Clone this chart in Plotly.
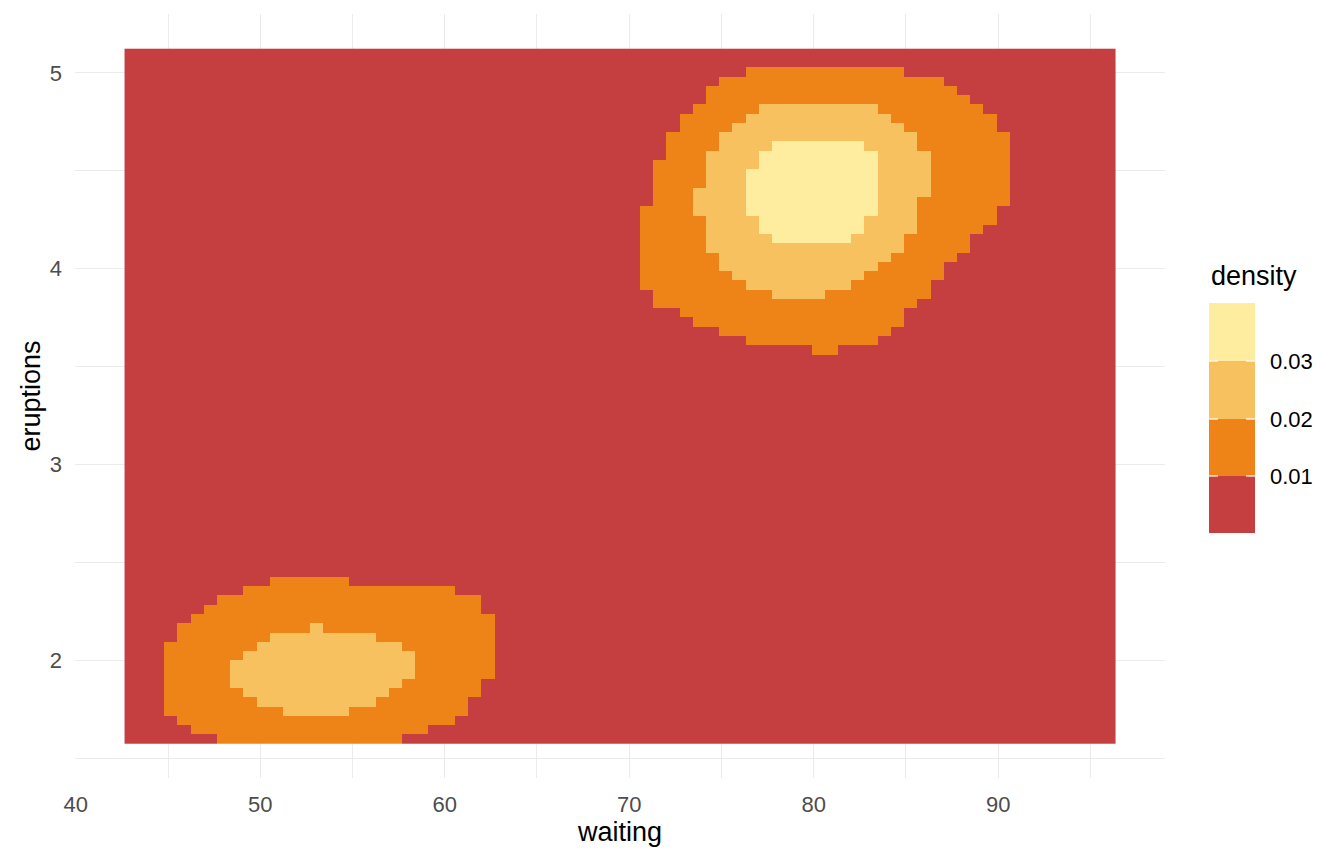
import numpy as np
import plotly.graph_objects as go

# ---- grid (as in the reference raster: 75 x 75 cells) ----
N_GRID = 75
WAITING_RANGE = [43, 96]
ERUPTIONS_RANGE = [1.6, 5.1]

# density class representative values (bins: <0.01, 0.01-0.02, 0.02-0.03, >0.03)
LEVEL_VALUES = [0.005, 0.015, 0.025, 0.035]
LEGEND_BREAKS = [0.01, 0.02, 0.03]
LEGEND_LABELS = ["0.01", "0.02", "0.03"]
COLORS = ["#C53E40", "#EE8317", "#F8C15F", "#FEEC9F"]

# Region extents: row index counted from the TOP of the raster,
# and first/last column index (waiting) covered in that row.
# Upper cluster, density >= 0.01
UP_OR_ROWS = list(range(2, 33))
UP_OR_L = [47, 45, 44, 44, 43, 42, 42, 41, 41, 41, 40, 40, 40, 40, 40, 39, 39, 39, 39, 39,
           39, 39, 39, 39, 40, 40, 42, 43, 45, 47, 52]
UP_OR_R = [58, 61, 62, 63, 64, 65, 65, 66, 66, 66, 66, 66, 66, 66, 66, 65, 65, 64, 63, 63,
           62, 61, 61, 60, 60, 59, 58, 58, 57, 56, 53]
# Upper cluster, density >= 0.02
UP_LT_ROWS = list(range(6, 27))
UP_LT_L = [48, 47, 46, 45, 45, 44, 44, 44, 44, 43, 43, 43, 44, 44, 44, 44, 45, 45, 46, 47, 49]
UP_LT_R = [56, 57, 58, 59, 59, 60, 60, 60, 60, 60, 59, 59, 59, 59, 58, 58, 57, 56, 55, 54, 52]
# Upper cluster, density >= 0.03
UP_YE_ROWS = list(range(10, 21))
UP_YE_L = [49, 48, 48, 47, 47, 47, 47, 47, 48, 48, 49]
UP_YE_R = [55, 56, 56, 56, 56, 56, 56, 56, 55, 55, 54]
# Lower cluster, density >= 0.01
LO_OR_ROWS = list(range(57, 75))
LO_OR_L = [11, 9, 7, 6, 5, 4, 4, 3, 3, 3, 3, 3, 3, 3, 3, 4, 5, 7]
LO_OR_R = [16, 24, 26, 26, 27, 27, 27, 27, 27, 27, 27, 26, 26, 25, 25, 24, 22, 20]
# Lower cluster, density >= 0.02
LO_LT_ROWS = list(range(62, 72))
LO_LT_L = [14, 11, 10, 9, 8, 8, 8, 9, 10, 12]
LO_LT_R = [14, 18, 20, 21, 21, 21, 20, 19, 18, 16]

waiting = np.linspace(WAITING_RANGE[0], WAITING_RANGE[1], N_GRID)
eruptions = np.linspace(ERUPTIONS_RANGE[0], ERUPTIONS_RANGE[1], N_GRID)

z = np.full((N_GRID, N_GRID), LEVEL_VALUES[0])


def fill(rows, lefts, rights, level):
    for r, a, b in zip(rows, lefts, rights):
        j = N_GRID - 1 - r  # convert row-from-top to eruptions index
        z[j, a:b + 1] = LEVEL_VALUES[level]


fill(UP_OR_ROWS, UP_OR_L, UP_OR_R, 1)
fill(UP_LT_ROWS, UP_LT_L, UP_LT_R, 2)
fill(UP_YE_ROWS, UP_YE_L, UP_YE_R, 3)
fill(LO_OR_ROWS, LO_OR_L, LO_OR_R, 1)
fill(LO_LT_ROWS, LO_LT_L, LO_LT_R, 2)

colorscale = []
for i, c in enumerate(COLORS):
    colorscale.append([i / 4, c])
    colorscale.append([(i + 1) / 4, c])

fig = go.Figure()
fig.add_trace(go.Heatmap(
    x=waiting, y=eruptions, z=z,
    zmin=0, zmax=0.04, colorscale=colorscale, showscale=False,
    hoverinfo="skip",
))

# page has an 8px body margin; figure sized so that it fills the 1344x865 window
OFF = 8
W, H = 1336, 857
ML, MR, MT, MB = 67, 179, 6, 87
PW, PH = W - ML - MR, H - MT - MB


def px2x(px):
    return (px - OFF - ML) / PW


def px2y(py):
    return (H - MB - (py - OFF)) / PH


# ---- manual binned legend ----
leg_x0, leg_x1 = 1209, 1255
leg_edges = [533, 476, 419, 361, 303]  # bottom to top, pixels
shapes = []
for i, c in enumerate(COLORS):
    shapes.append(dict(type="rect", xref="paper", yref="paper",
                       x0=px2x(leg_x0), x1=px2x(leg_x1),
                       y0=px2y(leg_edges[i]), y1=px2y(leg_edges[i + 1]),
                       fillcolor=c, line=dict(width=0), layer="above"))
for e in leg_edges[1:4]:
    for a, b in [(leg_x0, leg_x0 + 9), (leg_x1 - 9, leg_x1)]:
        shapes.append(dict(type="line", xref="paper", yref="paper",
                           x0=px2x(a), x1=px2x(b), y0=px2y(e), y1=px2y(e),
                           line=dict(color="white", width=1.2), layer="above"))

annotations = [dict(text="density", xref="paper", yref="paper",
                    x=px2x(1209), y=px2y(276), xanchor="left", yanchor="middle",
                    showarrow=False, font=dict(size=27, color="black"))]
for e, lab in zip(leg_edges[1:4], LEGEND_LABELS):
    annotations.append(dict(text=lab, xref="paper", yref="paper",
                            x=px2x(1268), y=px2y(e), xanchor="left", yanchor="middle",
                            showarrow=False, font=dict(size=22, color="black")))

font_family = "Liberation Sans, Arial, sans-serif"
grid_col = "#EBEBEB"

fig.update_layout(
    width=W, height=H,
    margin=dict(l=ML, r=MR, t=MT, b=MB),
    paper_bgcolor="white", plot_bgcolor="white",
    font=dict(family=font_family),
    shapes=shapes, annotations=annotations,
    showlegend=False,
)
fig.update_xaxes(
    range=[39.956, 99.044], tickmode="linear", tick0=0, dtick=10,
    showgrid=True, gridcolor=grid_col, gridwidth=1.4, zeroline=False, showline=False,
    ticks="", tickfont=dict(size=22, color="#4D4D4D"), ticklabelstandoff=11,
    minor=dict(tickmode="linear", tick0=5, dtick=5, showgrid=True, gridcolor=grid_col, gridwidth=0.9),
    title=dict(text="waiting", font=dict(size=27, color="black"), standoff=5),
)
fig.update_yaxes(
    range=[1.399, 5.301], tickmode="linear", tick0=0, dtick=1,
    showgrid=True, gridcolor=grid_col, gridwidth=1.4, zeroline=False, showline=False,
    ticks="", tickfont=dict(size=22, color="#4D4D4D"), ticklabelstandoff=12,
    minor=dict(tickmode="linear", tick0=0.5, dtick=0.5, showgrid=True, gridcolor=grid_col, gridwidth=0.9),
    title=dict(text="eruptions", font=dict(size=27, color="black"), standoff=1),
)

fig.write_html("out.html")
